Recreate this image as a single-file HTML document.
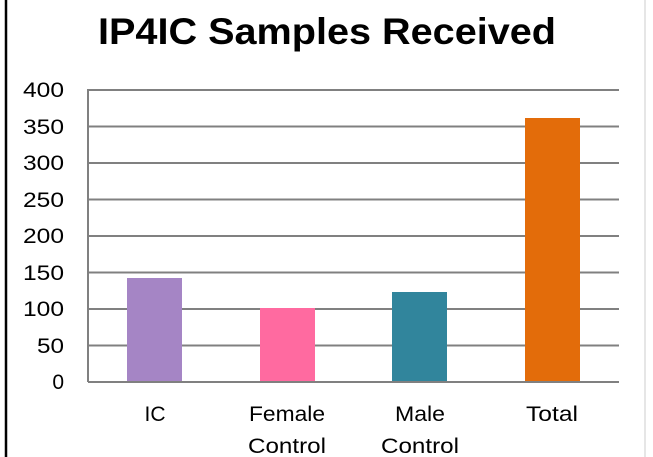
<!DOCTYPE html>
<html><head><style>body{margin:0;background:#fff}svg{display:block}</style></head>
<body>
<svg width="653" height="457" xmlns="http://www.w3.org/2000/svg" font-family="Liberation Sans, sans-serif">
<rect width="653" height="457" fill="#fff"/>
<line x1="6" y1="0" x2="6" y2="457" stroke="#000" stroke-width="2.5"/>
<line x1="645" y1="0" x2="645" y2="457" stroke="#ccc" stroke-width="1"/>
<text x="327" y="44" text-anchor="middle" font-size="37" font-weight="bold" fill="#000" textLength="458" lengthAdjust="spacingAndGlyphs">IP4IC Samples Received</text>
<g stroke="#808080" stroke-width="2">
<line x1="88" y1="90" x2="619" y2="90"/>
<line x1="88" y1="126.5" x2="619" y2="126.5"/>
<line x1="88" y1="163" x2="619" y2="163"/>
<line x1="88" y1="199.5" x2="619" y2="199.5"/>
<line x1="88" y1="236" x2="619" y2="236"/>
<line x1="88" y1="272.5" x2="619" y2="272.5"/>
<line x1="88" y1="309" x2="619" y2="309"/>
<line x1="88" y1="345.5" x2="619" y2="345.5"/>
<line x1="88" y1="382" x2="619" y2="382"/>
<line x1="88" y1="89" x2="88" y2="382"/>
</g>
<g font-size="21" fill="#000" text-anchor="end" lengthAdjust="spacingAndGlyphs">
<text x="64" y="97" textLength="41" lengthAdjust="spacingAndGlyphs">400</text><text x="64" y="134" textLength="41" lengthAdjust="spacingAndGlyphs">350</text><text x="64" y="170" textLength="41" lengthAdjust="spacingAndGlyphs">300</text>
<text x="64" y="207" textLength="41" lengthAdjust="spacingAndGlyphs">250</text><text x="64" y="243" textLength="41" lengthAdjust="spacingAndGlyphs">200</text><text x="64" y="280" textLength="41" lengthAdjust="spacingAndGlyphs">150</text>
<text x="64" y="316" textLength="41" lengthAdjust="spacingAndGlyphs">100</text><text x="64" y="353" textLength="27" lengthAdjust="spacingAndGlyphs">50</text><text x="64" y="389">0</text>
</g>
<rect x="127" y="278" width="55" height="103" fill="#a585c5"/>
<rect x="260" y="308" width="55" height="73" fill="#ff6aa0"/>
<rect x="392" y="292" width="55" height="89" fill="#31859c"/>
<rect x="525" y="118" width="55" height="263" fill="#e36c0a"/>
<g font-size="21" fill="#000" text-anchor="middle">
<text x="155" y="421">IC</text>
<text x="287" y="421" textLength="76" lengthAdjust="spacingAndGlyphs">Female</text><text x="287" y="453" textLength="78" lengthAdjust="spacingAndGlyphs">Control</text>
<text x="420" y="421" textLength="50" lengthAdjust="spacingAndGlyphs">Male</text><text x="420" y="453" textLength="78" lengthAdjust="spacingAndGlyphs">Control</text>
<text x="552" y="421" textLength="52" lengthAdjust="spacingAndGlyphs">Total</text>
</g>
</svg>
</body></html>
